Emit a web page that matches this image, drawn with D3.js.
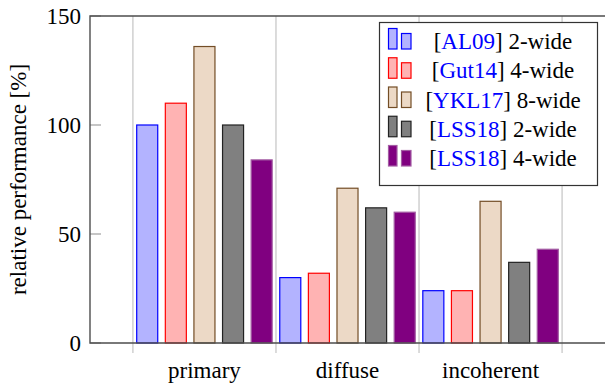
<!DOCTYPE html>
<html>
<head>
<meta charset="utf-8">
<script src="https://cdn.jsdelivr.net/npm/d3@7"></script>
<style>
	text { font-family: "Times New Roman", "Liberation Serif" !important; font-size: 23px; }
</style>
</head>
<body style="margin:0">
<svg id="plot" width="606" height="387" style="font-family: 'Times New Roman'"></svg>
<script>
// chart data
var categories = ['primary', 'diffuse', 'incoherent'];
var citations = ['AL09', 'Gut14', 'YKL17', 'LSS18', 'LSS18'];
var widths = ['2-wide', '4-wide', '8-wide', '2-wide', '4-wide'];
var al09 = [100, 30, 24];
var gut14 = [110, 32, 24];
var ykl17 = [136, 71, 65];
var lss18two = [100, 62, 37];
var lss18four = [84, 60, 43];
var yTicks = [0, 50, 100, 150];

var seriesValues = [al09, gut14, ykl17, lss18two, lss18four];

// pgfplots-ish bar styles
var fills = ['#b3b3ff', '#ffb3b3', '#ecd9c6', '#808080', '#800080'];
var strokes = ['#0000ff', '#ff0000', '#734d26', '#222222', '#a35ca3'];

var svg = d3.select('#plot');

var x = d3.scaleLinear().domain([-0.8, 2.8]).range([90, 605]);
var y = d3.scaleLinear().domain([0, 150]).range([343, 16]);

var barShift = 0.2, barWidth = 0.147;

// vertical grid lines between groups, with ticks below the axis
var gridAt = [-0.5, 0.5, 1.5, 2.5];
svg.append('g').selectAll('line').data(gridAt).enter().append('line')
	.attr('x1', function(d) { return x(d); })
	.attr('x2', function(d) { return x(d); })
	.attr('y1', y(150))
	.attr('y2', y(0) + 10)
	.attr('stroke', '#c4c4c4')
	.attr('stroke-width', 1.2);

// bars
seriesValues.forEach(function(vals, k) {
	svg.append('g').selectAll('rect').data(vals).enter().append('rect')
		.attr('x', function(d, i) { return x(i + (k - 2) * barShift - barWidth / 2); })
		.attr('width', x(barWidth) - x(0))
		.attr('y', function(d) { return y(d); })
		.attr('height', function(d) { return y(0) - y(d); })
		.attr('fill', fills[k])
		.attr('stroke', strokes[k])
		.attr('stroke-width', 1.2);
});

// y ticks (inside)
svg.append('g').selectAll('line').data(yTicks).enter().append('line')
	.attr('x1', 90).attr('x2', 101)
	.attr('y1', function(d) { return y(d); })
	.attr('y2', function(d) { return y(d); })
	.attr('stroke', '#a0a0a0')
	.attr('stroke-width', 1.2);

// axis box
svg.append('path')
	.attr('d', 'M' + x(2.8) + ',' + y(150) + 'H90V' + y(0) + 'H' + x(2.8))
	.attr('fill', 'none')
	.attr('stroke', '#4d4d4d')
	.attr('stroke-width', 1.4);

// tick labels
svg.append('g').selectAll('text').data(yTicks).enter().append('text')
	.attr('x', 81)
	.attr('y', function(d) { return y(d); })
	.attr('dy', '0.33em')
	.attr('text-anchor', 'end')
	.text(function(d) { return d; });

svg.append('g').selectAll('text').data(categories).enter().append('text')
	.attr('x', function(d, i) { return x(i); })
	.attr('y', 378)
	.attr('text-anchor', 'middle')
	.text(function(d) { return d; });

svg.append('text')
	.attr('transform', 'translate(26,' + ((y(0) + y(150)) / 2) + ') rotate(-90)')
	.attr('text-anchor', 'middle')
	.text('relative performance [%]');

// legend
var legend = svg.append('g');
legend.append('rect')
	.attr('x', 379.5).attr('y', 22.5)
	.attr('width', 218).attr('height', 163)
	.attr('fill', '#fff')
	.attr('stroke', '#333')
	.attr('stroke-width', 1.2);

var rowStep = 29.25;
citations.forEach(function(cite, k) {
	var base = 49 + k * rowStep;
	var row = legend.append('g');
	row.append('rect')
		.attr('x', 388.5).attr('y', base - 20.5)
		.attr('width', 8.5).attr('height', 20.5)
		.attr('fill', fills[k]).attr('stroke', strokes[k]).attr('stroke-width', 1.2);
	row.append('rect')
		.attr('x', 401.5).attr('y', base - 15.5)
		.attr('width', 9.5).attr('height', 15.5)
		.attr('fill', fills[k]).attr('stroke', strokes[k]).attr('stroke-width', 1.2);
	var t = row.append('text')
		.attr('x', 503).attr('y', base)
		.attr('text-anchor', 'middle');
	t.append('tspan').text('[');
	t.append('tspan').attr('fill', '#0000ff').text(cite);
	t.append('tspan').text('] ' + widths[k]);
});
</script>
</body>
</html>
